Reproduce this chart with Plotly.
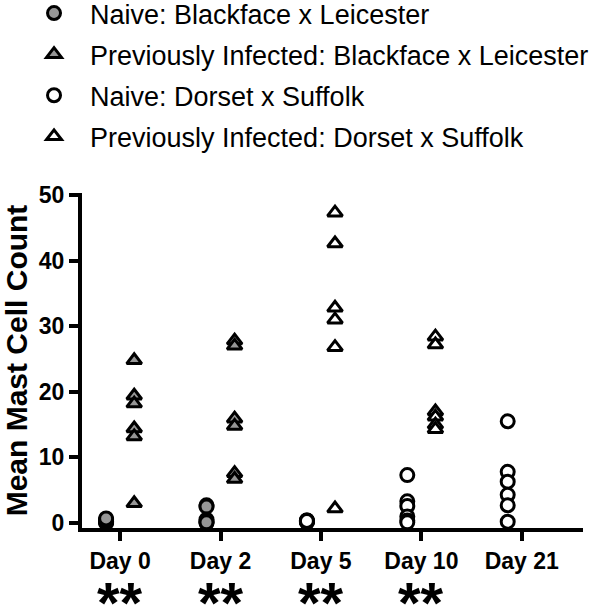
import plotly.graph_objects as go

days = ["Day 0", "Day 2", "Day 5", "Day 10", "Day 21"]
significance = ["**", "**", "**", "**", ""]

# Naive: Blackface x Leicester
naive_bxl_d0 = [0.0, 0.1, 0.2, 0.3, 0.5, 0.7]
naive_bxl_d2 = [2.7, 2.5, 0.5, 0.2, 0.0, 0.1]
# Previously Infected: Blackface x Leicester
pi_bxl_d0 = [24.8, 19.4, 18.2, 14.4, 13.2, 3.0]
pi_bxl_d2 = [27.8, 27.0, 15.9, 14.8, 7.6, 6.7]
# Naive: Dorset x Suffolk
naive_dxs_d5 = [0.4, 0.3, 0.2, 0.1, 0.4, 0.3]
naive_dxs_d10 = [7.3, 3.3, 2.6, 1.0, 0.4, 0.1]
naive_dxs_d21 = [15.5, 7.8, 6.3, 4.3, 2.7, 0.2]
# Previously Infected: Dorset x Suffolk
pi_dxs_d5 = [47.3, 42.6, 32.8, 31.0, 26.8, 2.2]
pi_dxs_d10 = [28.4, 27.2, 17.0, 16.2, 15.0, 14.3]

GRAY = "#969696"
FONT = "Liberation Sans, Arial, Helvetica, sans-serif"
OFF = 0.14


def pts(groups, offset):
    xs, ys = [], []
    for day, vals in groups:
        i = days.index(day)
        xs += [i + offset] * len(vals)
        ys += vals
    return xs, ys


series = [
    ("Naive: Blackface x Leicester", [("Day 0", naive_bxl_d0), ("Day 2", naive_bxl_d2)], -OFF, "circle", GRAY),
    ("Previously Infected: Blackface x Leicester", [("Day 0", pi_bxl_d0), ("Day 2", pi_bxl_d2)], OFF, "triangle-up", GRAY),
    ("Naive: Dorset x Suffolk", [("Day 5", naive_dxs_d5), ("Day 10", naive_dxs_d10), ("Day 21", naive_dxs_d21)], -OFF, "circle", "white"),
    ("Previously Infected: Dorset x Suffolk", [("Day 5", pi_dxs_d5), ("Day 10", pi_dxs_d10)], OFF, "triangle-up", "white"),
]

fig = go.Figure()
for k, (name, groups, off, sym, fill) in enumerate(series):
    xs, ys = pts(groups, off)
    fig.add_trace(go.Scatter(
        x=xs, y=ys, mode="markers", name=name, legendgroup=str(k),
        marker=dict(symbol=sym, size=13, color=fill,
                    line=dict(color="black", width=3)),
        cliponaxis=False,
    ))

for i, s in enumerate(significance):
    if s:
        fig.add_annotation(x=i, y=0, xref="x", yref="paper", yshift=-40,
                           text=s, showarrow=False, yanchor="top",
                           height=35, valign="top",
                           font=dict(family=FONT, size=58, color="black", weight="bold"))

fig.update_layout(
    width=600, height=607,
    margin=dict(l=82, r=17, t=193, b=79, autoexpand=False),
    paper_bgcolor="white", plot_bgcolor="white",
    font=dict(family=FONT, color="black"),
    legend=dict(
        x=-0.1277, y=1.609, xanchor="left", yanchor="top",
        font=dict(family=FONT, size=27, color="black"),
        traceorder="grouped", tracegroupgap=3, itemwidth=62,
        bgcolor="rgba(0,0,0,0)",
    ),
    xaxis=dict(
        range=[-0.38, 4.61], tickmode="array", tickvals=list(range(len(days))),
        ticktext=days, showline=True, linewidth=4, linecolor="black",
        ticks="outside", ticklen=9, tickwidth=4, tickcolor="black",
        showgrid=False, zeroline=False,
        tickfont=dict(family=FONT, size=23, color="black", weight="bold"),
    ),
    yaxis=dict(
        range=[-0.76, 50.3], tickvals=[0, 10, 20, 30, 40, 50],
        showline=True, linewidth=4, linecolor="black",
        ticks="outside", ticklen=9, tickwidth=4, tickcolor="black",
        showgrid=False, zeroline=False,
        tickfont=dict(family=FONT, size=23, color="black", weight="bold"),
        title=dict(text="Mean Mast Cell Count", standoff=11,
                   font=dict(family=FONT, size=30, color="black", weight="bold")),
    ),
)

fig.write_html("out.html", config={"displayModeBar": False},
               post_script="document.body.style.margin='0';")
